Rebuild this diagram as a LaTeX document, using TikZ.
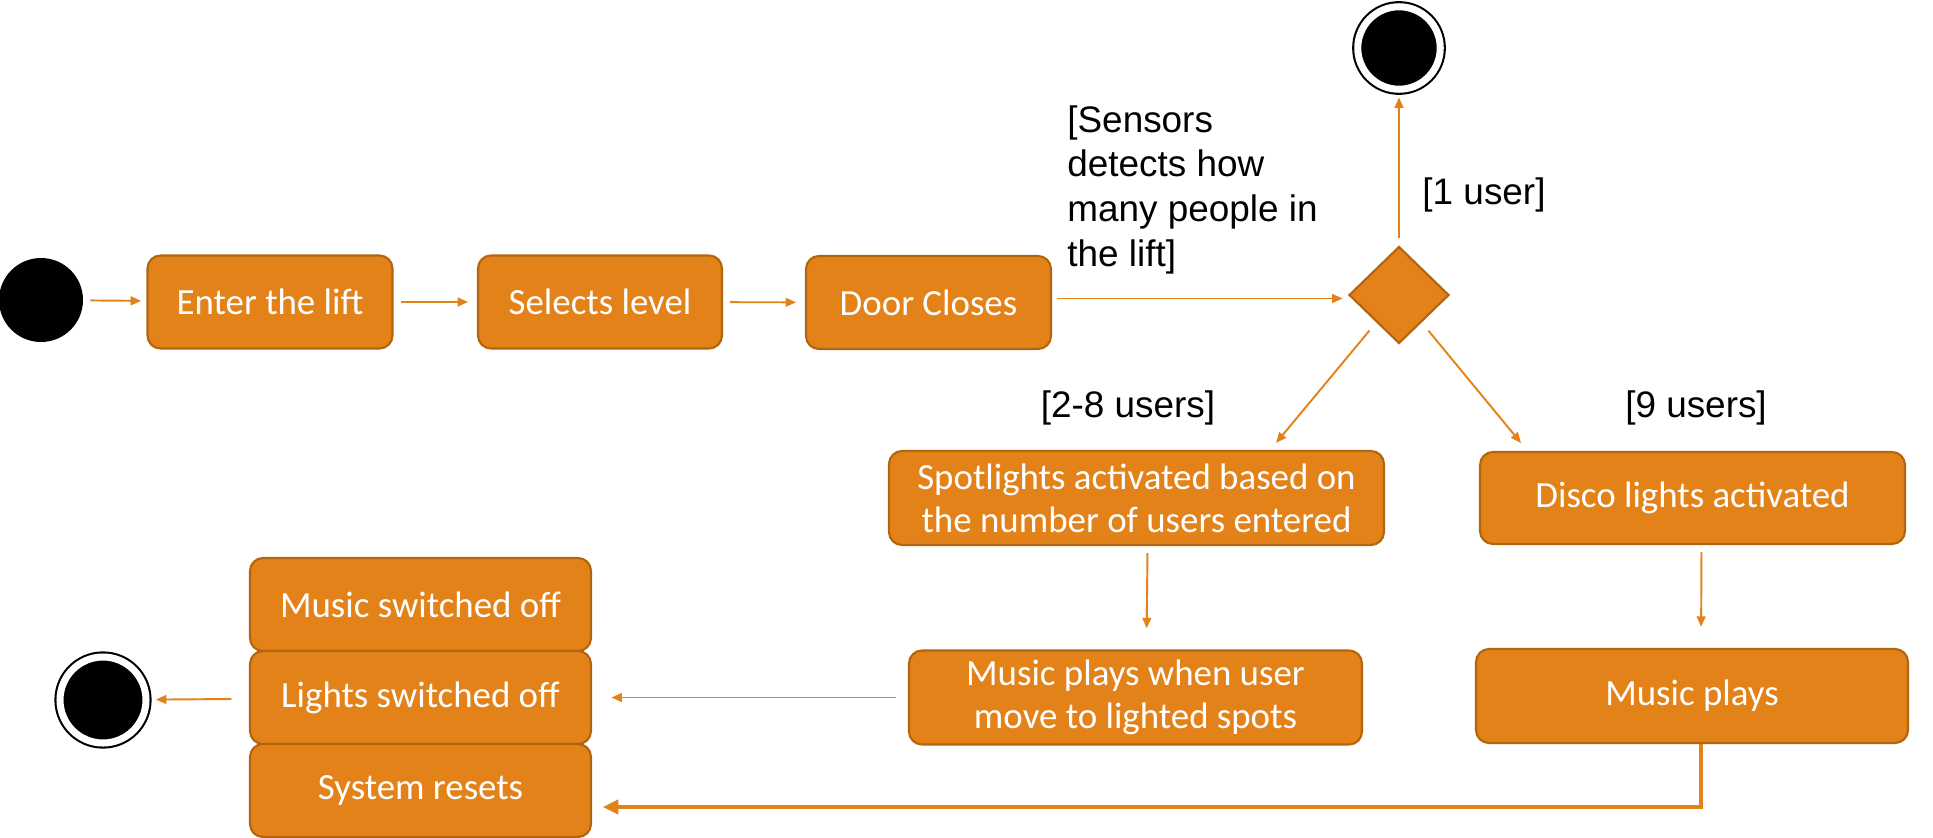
\documentclass[tikz,border=0pt]{standalone}
\usepackage{fontspec}
\setmainfont{Liberation Sans}
\newfontfamily\boxfont{Carlito}
\usetikzlibrary{arrows.meta, shapes.geometric}
\definecolor{liftorange}{HTML}{E4821A}
\definecolor{liftborder}{HTML}{B3640F}

\begin{document}
\begin{tikzpicture}
\useasboundingbox (0, 0) rectangle (38.66, -16.74);

\begin{scope}[every node/.style={rectangle,rounded corners=0.26cm,draw=liftborder,line width=1.2pt,fill=liftorange,text=white,align=center,minimum height=1.86cm,font=\boxfont\fontsize{21}{24.5}\selectfont}]
    \node (enter) at (5.4, -6.04) [minimum width=4.9cm] {Enter the lift};
    \node (select) at (12.0, -6.04) [minimum width=4.88cm] {Selects level};
    \node (door) at (18.57, -6.05) [minimum width=4.9cm] {Door Closes};

    \node (spot) at (22.73, -9.96) [minimum width=9.9cm, minimum height=1.88cm] {Spotlights activated based on\\the number of users entered};
    \node (disco) at (33.85, -9.96) [minimum width=8.5cm, minimum height=1.84cm] {Disco lights activated};

    \node (musicspot) at (22.71, -13.95) [minimum width=9.06cm, minimum height=1.88cm] {Music plays when user\\move to lighted spots};
    \node (musicplays) at (33.84, -13.92) [minimum width=8.64cm, minimum height=1.88cm] {Music plays};

    \node (off1) at (8.41, -12.09) [minimum width=6.82cm] {Music switched off};
    \node (off2) at (8.41, -13.95) [minimum width=6.82cm] {Lights switched off};
    \node (off3) at (8.41, -15.81) [minimum width=6.82cm] {System resets};

    \node (dec) at (27.98, -5.9) [diamond, rounded corners=0pt, inner sep=0pt, minimum width=2.0cm, minimum height=1.94cm] {};
\end{scope}

\begin{scope}[every node/.style={circle,fill=black,draw=black,inner sep=0pt}]
    \node (start) at (0.82, -6.0) [draw=none, minimum size=1.68cm] {};
    \node (end1) at (27.98, -0.96) [line width=1.2pt, double=white, double distance=4pt, minimum size=1.65cm] {};
    \node (end2) at (2.06, -14.0) [line width=1.2pt, double=white, double distance=4pt, minimum size=1.72cm] {};
\end{scope}

\begin{scope}[every node/.style={text=black,inner sep=0pt,align=left,font=\fontsize{21}{25.5}\selectfont}]
    \node (sensors) at (21.34, -2.1) [anchor=north west] {[Sensors\\detects how\\many people in\\the lift]};
    \node (user1) at (29.68, -3.9) {[1 user]};
    \node (users28) at (22.56, -8.16) {[2-8 users]};
    \node (users9) at (33.92, -8.16) {[9 users]};
\end{scope}

\coordinate (to28) at (25.52, -8.86);
\coordinate (to9) at (30.42, -8.86);

\begin{scope}[>={Triangle[length=6pt,width=5pt]},
              every edge/.style={draw=liftorange,line width=1.1pt}]
    \path [->] (start) edge [shorten <=4pt, shorten >=3pt] (enter);
    \path [->] (enter) edge [shorten <=4pt, shorten >=5pt] (select);
    \path [->] (select) edge [shorten <=4pt, shorten >=5pt] (door);
    \path [->] ([yshift=0.08cm]door.east) edge [shorten <=3pt, shorten >=3pt] ([yshift=0.08cm]door.east -| dec.west);

    \path [->] (dec) edge [shorten <=4pt, shorten >=4pt] (end1);
    \path [->] (dec) edge [shorten <=6pt] (to28);
    \path [->] (dec) edge [shorten <=6pt] (to9);

    \path [->] ([xshift=0.22cm]spot.south) edge [shorten <=4pt, shorten >=12pt] ([xshift=0.22cm]musicspot.north);
    \path [->] ([xshift=0.18cm]disco.south) edge [shorten <=4pt, shorten >=12pt] ([xshift=0.18cm]musicplays.north);

    \path [->] (musicspot) edge [shorten <=7pt, shorten >=11pt] (off2);
    \path [->] (off2) edge [shorten <=10pt, shorten >=5pt] (end2);
\end{scope}

\draw [->, draw=liftorange, line width=2.3pt, >={Triangle[length=9pt,width=8pt]}, shorten >=6pt]
    ([xshift=0.18cm]musicplays.south) |- ([yshift=-0.33cm]off3.east);
\end{tikzpicture}
\end{document}
